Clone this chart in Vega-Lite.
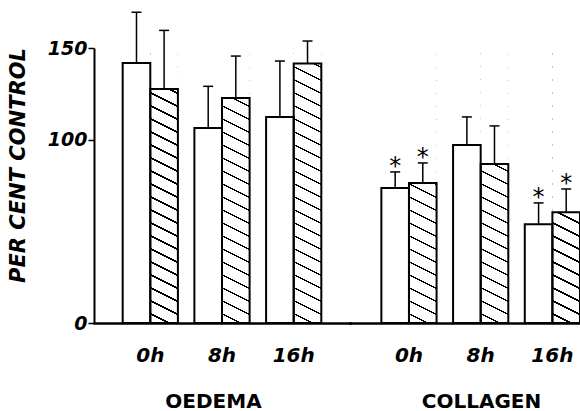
{
  "$schema": "https://vega.github.io/schema/vega-lite/v6.json",
  "padding": {"left": 6, "top": 11, "right": 0, "bottom": 0},
  "background": "white",
  "data": {
    "values": [
      {"group": "OEDEMA", "time": "0h", "series": "open", "value": 141.8, "err": 169.5, "sig": false},
      {"group": "OEDEMA", "time": "0h", "series": "hatched", "value": 127.6, "err": 159.6, "sig": false},
      {"group": "OEDEMA", "time": "8h", "series": "open", "value": 106.4, "err": 129.1, "sig": false},
      {"group": "OEDEMA", "time": "8h", "series": "hatched", "value": 122.7, "err": 145.6, "sig": false},
      {"group": "OEDEMA", "time": "16h", "series": "open", "value": 112.4, "err": 142.9, "sig": false},
      {"group": "OEDEMA", "time": "16h", "series": "hatched", "value": 141.6, "err": 153.8, "sig": false},
      {"group": "COLLAGEN", "time": "0h", "series": "open", "value": 73.6, "err": 82.4, "sig": true},
      {"group": "COLLAGEN", "time": "0h", "series": "hatched", "value": 76.4, "err": 87.3, "sig": true},
      {"group": "COLLAGEN", "time": "8h", "series": "open", "value": 97.1, "err": 112.4, "sig": false},
      {"group": "COLLAGEN", "time": "8h", "series": "hatched", "value": 86.7, "err": 107.5, "sig": false},
      {"group": "COLLAGEN", "time": "16h", "series": "open", "value": 53.8, "err": 65.5, "sig": true},
      {"group": "COLLAGEN", "time": "16h", "series": "hatched", "value": 60.4, "err": 73.1, "sig": true}
    ]
  },
  "spacing": 0,
  "resolve": {"scale": {"x": "independent", "y": "independent"}},
  "hconcat": [
    {
      "width": 256,
      "height": 275,
      "transform": [{"filter": "datum.group == 'OEDEMA'"}],
      "encoding": {
        "x": {"field": "time", "type": "nominal", "sort": ["0h", "8h", "16h"],
          "scale": {"paddingInner": 0.23, "paddingOuter": 0.4, "align": 0.5},
          "axis": {"title": "OEDEMA", "titleX": 119, "titleY": 84, "titleBaseline": "alphabetic", "titleAlign": "center", "labelAngle": 0, "ticks": false, "labelPadding": 22, "labelDx": 3, "domainWidth": 2.5, "domainCap": "square", "zindex": 1}},
        "xOffset": {"field": "series", "type": "nominal", "sort": ["open", "hatched"], "scale": {"paddingInner": 0, "paddingOuter": 0}}
      },
      "layer": [
        {
          "transform": [{"filter": "datum.series == 'hatched'"}],
          "mark": {"type": "bar", "strokeWidth": 0, "fill": {"gradient": "linear", "x1": 1, "y1": 0, "x2": 0.9408, "y2": 1.1788, "stops": [
            {"offset": 0, "color": "white"},
            {"offset": 0.0175, "color": "white"}, {"offset": 0.0175, "color": "black"}, {"offset": 0.0225, "color": "black"}, {"offset": 0.0225, "color": "white"},
            {"offset": 0.0575, "color": "white"}, {"offset": 0.0575, "color": "black"}, {"offset": 0.0625, "color": "black"}, {"offset": 0.0625, "color": "white"},
            {"offset": 0.0975, "color": "white"}, {"offset": 0.0975, "color": "black"}, {"offset": 0.1025, "color": "black"}, {"offset": 0.1025, "color": "white"},
            {"offset": 0.1375, "color": "white"}, {"offset": 0.1375, "color": "black"}, {"offset": 0.1425, "color": "black"}, {"offset": 0.1425, "color": "white"},
            {"offset": 0.1775, "color": "white"}, {"offset": 0.1775, "color": "black"}, {"offset": 0.1825, "color": "black"}, {"offset": 0.1825, "color": "white"},
            {"offset": 0.2175, "color": "white"}, {"offset": 0.2175, "color": "black"}, {"offset": 0.2225, "color": "black"}, {"offset": 0.2225, "color": "white"},
            {"offset": 0.2575, "color": "white"}, {"offset": 0.2575, "color": "black"}, {"offset": 0.2625, "color": "black"}, {"offset": 0.2625, "color": "white"},
            {"offset": 0.2975, "color": "white"}, {"offset": 0.2975, "color": "black"}, {"offset": 0.3025, "color": "black"}, {"offset": 0.3025, "color": "white"},
            {"offset": 0.3375, "color": "white"}, {"offset": 0.3375, "color": "black"}, {"offset": 0.3425, "color": "black"}, {"offset": 0.3425, "color": "white"},
            {"offset": 0.3775, "color": "white"}, {"offset": 0.3775, "color": "black"}, {"offset": 0.3825, "color": "black"}, {"offset": 0.3825, "color": "white"},
            {"offset": 0.4175, "color": "white"}, {"offset": 0.4175, "color": "black"}, {"offset": 0.4225, "color": "black"}, {"offset": 0.4225, "color": "white"},
            {"offset": 0.4575, "color": "white"}, {"offset": 0.4575, "color": "black"}, {"offset": 0.4625, "color": "black"}, {"offset": 0.4625, "color": "white"},
            {"offset": 0.4975, "color": "white"}, {"offset": 0.4975, "color": "black"}, {"offset": 0.5025, "color": "black"}, {"offset": 0.5025, "color": "white"},
            {"offset": 0.5375, "color": "white"}, {"offset": 0.5375, "color": "black"}, {"offset": 0.5425, "color": "black"}, {"offset": 0.5425, "color": "white"},
            {"offset": 0.5775, "color": "white"}, {"offset": 0.5775, "color": "black"}, {"offset": 0.5825, "color": "black"}, {"offset": 0.5825, "color": "white"},
            {"offset": 0.6175, "color": "white"}, {"offset": 0.6175, "color": "black"}, {"offset": 0.6225, "color": "black"}, {"offset": 0.6225, "color": "white"},
            {"offset": 0.6575, "color": "white"}, {"offset": 0.6575, "color": "black"}, {"offset": 0.6625, "color": "black"}, {"offset": 0.6625, "color": "white"},
            {"offset": 0.6975, "color": "white"}, {"offset": 0.6975, "color": "black"}, {"offset": 0.7025, "color": "black"}, {"offset": 0.7025, "color": "white"},
            {"offset": 0.7375, "color": "white"}, {"offset": 0.7375, "color": "black"}, {"offset": 0.7425, "color": "black"}, {"offset": 0.7425, "color": "white"},
            {"offset": 0.7775, "color": "white"}, {"offset": 0.7775, "color": "black"}, {"offset": 0.7825, "color": "black"}, {"offset": 0.7825, "color": "white"},
            {"offset": 0.8175, "color": "white"}, {"offset": 0.8175, "color": "black"}, {"offset": 0.8225, "color": "black"}, {"offset": 0.8225, "color": "white"},
            {"offset": 0.8575, "color": "white"}, {"offset": 0.8575, "color": "black"}, {"offset": 0.8625, "color": "black"}, {"offset": 0.8625, "color": "white"},
            {"offset": 0.8975, "color": "white"}, {"offset": 0.8975, "color": "black"}, {"offset": 0.9025, "color": "black"}, {"offset": 0.9025, "color": "white"},
            {"offset": 1, "color": "white"}]}},
          "encoding": {
            "y": {"datum": 150, "type": "quantitative", "scale": {"domain": [0, 150], "nice": false},
              "axis": {"values": [0, 100, 150], "title": "PER CENT CONTROL", "titleX": -70, "titleY": 117, "titleAngle": 270, "titleAlign": "center", "titleBaseline": "alphabetic", "titleFontStyle": "italic", "titleFontSize": 21, "labelFontSize": 19, "tickSize": 6, "tickWidth": 1.5, "labelPadding": 1, "domainWidth": 2, "grid": false}},
            "y2": {"datum": 0}
          }
        },
        {
          "transform": [{"filter": "datum.series == 'hatched'"}],
          "mark": {"type": "bar", "fill": "white", "strokeWidth": 0},
          "encoding": {"y": {"field": "value", "type": "quantitative"}, "y2": {"datum": 150}}
        },
        {
          "mark": {"type": "bar", "fill": "white", "fillOpacity": 0, "stroke": "black", "strokeWidth": 2},
          "encoding": {"y": {"field": "value", "type": "quantitative"}}
        },
        {
          "mark": {"type": "rule", "color": "black", "strokeWidth": 1.5},
          "encoding": {"y": {"field": "value", "type": "quantitative"}, "y2": {"field": "err"}}
        },
        {
          "mark": {"type": "tick", "color": "black", "size": 10, "thickness": 1.5, "opacity": 1},
          "encoding": {"y": {"field": "err", "type": "quantitative"}}
        }
      ]
    },
    {
      "width": 230,
      "height": 275,
      "transform": [{"filter": "datum.group == 'COLLAGEN'"}],
      "encoding": {
        "x": {"field": "time", "type": "nominal", "sort": ["0h", "8h", "16h"],
          "scale": {"paddingInner": 0.23, "paddingOuter": 0.2187, "align": 1},
          "axis": {"title": "COLLAGEN", "titleX": 131, "titleY": 84, "titleBaseline": "alphabetic", "titleAlign": "center", "labelAngle": 0, "ticks": false, "labelPadding": 22, "labelDx": 3, "domainWidth": 2.5, "domainCap": "square", "zindex": 1}},
        "xOffset": {"field": "series", "type": "nominal", "sort": ["open", "hatched"], "scale": {"paddingInner": 0, "paddingOuter": 0}}
      },
      "layer": [
        {
          "transform": [{"filter": "datum.series == 'hatched'"}],
          "mark": {"type": "bar", "strokeWidth": 0, "fill": {"gradient": "linear", "x1": 1, "y1": 0, "x2": 0.9408, "y2": 1.1788, "stops": [
            {"offset": 0, "color": "white"},
            {"offset": 0.0175, "color": "white"}, {"offset": 0.0175, "color": "black"}, {"offset": 0.0225, "color": "black"}, {"offset": 0.0225, "color": "white"},
            {"offset": 0.0575, "color": "white"}, {"offset": 0.0575, "color": "black"}, {"offset": 0.0625, "color": "black"}, {"offset": 0.0625, "color": "white"},
            {"offset": 0.0975, "color": "white"}, {"offset": 0.0975, "color": "black"}, {"offset": 0.1025, "color": "black"}, {"offset": 0.1025, "color": "white"},
            {"offset": 0.1375, "color": "white"}, {"offset": 0.1375, "color": "black"}, {"offset": 0.1425, "color": "black"}, {"offset": 0.1425, "color": "white"},
            {"offset": 0.1775, "color": "white"}, {"offset": 0.1775, "color": "black"}, {"offset": 0.1825, "color": "black"}, {"offset": 0.1825, "color": "white"},
            {"offset": 0.2175, "color": "white"}, {"offset": 0.2175, "color": "black"}, {"offset": 0.2225, "color": "black"}, {"offset": 0.2225, "color": "white"},
            {"offset": 0.2575, "color": "white"}, {"offset": 0.2575, "color": "black"}, {"offset": 0.2625, "color": "black"}, {"offset": 0.2625, "color": "white"},
            {"offset": 0.2975, "color": "white"}, {"offset": 0.2975, "color": "black"}, {"offset": 0.3025, "color": "black"}, {"offset": 0.3025, "color": "white"},
            {"offset": 0.3375, "color": "white"}, {"offset": 0.3375, "color": "black"}, {"offset": 0.3425, "color": "black"}, {"offset": 0.3425, "color": "white"},
            {"offset": 0.3775, "color": "white"}, {"offset": 0.3775, "color": "black"}, {"offset": 0.3825, "color": "black"}, {"offset": 0.3825, "color": "white"},
            {"offset": 0.4175, "color": "white"}, {"offset": 0.4175, "color": "black"}, {"offset": 0.4225, "color": "black"}, {"offset": 0.4225, "color": "white"},
            {"offset": 0.4575, "color": "white"}, {"offset": 0.4575, "color": "black"}, {"offset": 0.4625, "color": "black"}, {"offset": 0.4625, "color": "white"},
            {"offset": 0.4975, "color": "white"}, {"offset": 0.4975, "color": "black"}, {"offset": 0.5025, "color": "black"}, {"offset": 0.5025, "color": "white"},
            {"offset": 0.5375, "color": "white"}, {"offset": 0.5375, "color": "black"}, {"offset": 0.5425, "color": "black"}, {"offset": 0.5425, "color": "white"},
            {"offset": 0.5775, "color": "white"}, {"offset": 0.5775, "color": "black"}, {"offset": 0.5825, "color": "black"}, {"offset": 0.5825, "color": "white"},
            {"offset": 0.6175, "color": "white"}, {"offset": 0.6175, "color": "black"}, {"offset": 0.6225, "color": "black"}, {"offset": 0.6225, "color": "white"},
            {"offset": 0.6575, "color": "white"}, {"offset": 0.6575, "color": "black"}, {"offset": 0.6625, "color": "black"}, {"offset": 0.6625, "color": "white"},
            {"offset": 0.6975, "color": "white"}, {"offset": 0.6975, "color": "black"}, {"offset": 0.7025, "color": "black"}, {"offset": 0.7025, "color": "white"},
            {"offset": 0.7375, "color": "white"}, {"offset": 0.7375, "color": "black"}, {"offset": 0.7425, "color": "black"}, {"offset": 0.7425, "color": "white"},
            {"offset": 0.7775, "color": "white"}, {"offset": 0.7775, "color": "black"}, {"offset": 0.7825, "color": "black"}, {"offset": 0.7825, "color": "white"},
            {"offset": 0.8175, "color": "white"}, {"offset": 0.8175, "color": "black"}, {"offset": 0.8225, "color": "black"}, {"offset": 0.8225, "color": "white"},
            {"offset": 0.8575, "color": "white"}, {"offset": 0.8575, "color": "black"}, {"offset": 0.8625, "color": "black"}, {"offset": 0.8625, "color": "white"},
            {"offset": 0.8975, "color": "white"}, {"offset": 0.8975, "color": "black"}, {"offset": 0.9025, "color": "black"}, {"offset": 0.9025, "color": "white"},
            {"offset": 1, "color": "white"}]}},
          "encoding": {
            "y": {"datum": 150, "type": "quantitative", "scale": {"domain": [0, 150], "nice": false}, "axis": null},
            "y2": {"datum": 0}
          }
        },
        {
          "transform": [{"filter": "datum.series == 'hatched'"}],
          "mark": {"type": "bar", "fill": "white", "strokeWidth": 0},
          "encoding": {"y": {"field": "value", "type": "quantitative", "axis": null}, "y2": {"datum": 150}}
        },
        {
          "mark": {"type": "bar", "fill": "white", "fillOpacity": 0, "stroke": "black", "strokeWidth": 2},
          "encoding": {"y": {"field": "value", "type": "quantitative", "axis": null}}
        },
        {
          "mark": {"type": "rule", "color": "black", "strokeWidth": 1.5},
          "encoding": {"y": {"field": "value", "type": "quantitative", "axis": null}, "y2": {"field": "err"}}
        },
        {
          "mark": {"type": "tick", "color": "black", "size": 10, "thickness": 1.5, "opacity": 1},
          "encoding": {"y": {"field": "err", "type": "quantitative", "axis": null}}
        },
        {
          "transform": [{"filter": "datum.sig"}],
          "mark": {"type": "text", "text": "*", "fontSize": 24, "font": "DejaVu Sans", "color": "black", "baseline": "middle", "dy": -5},
          "encoding": {"y": {"field": "err", "type": "quantitative", "axis": null}}
        }
      ]
    }
  ],
  "config": {
    "view": {"stroke": null},
    "font": "DejaVu Sans",
    "axis": {
      "domainColor": "black", "tickColor": "black", "labelColor": "black", "titleColor": "black",
      "labelFont": "DejaVu Sans", "labelFontWeight": "bold", "labelFontStyle": "italic", "labelFontSize": 20,
      "titleFont": "DejaVu Sans", "titleFontWeight": "bold", "titleFontSize": 20, "titlePadding": 0
    }
  }
}
